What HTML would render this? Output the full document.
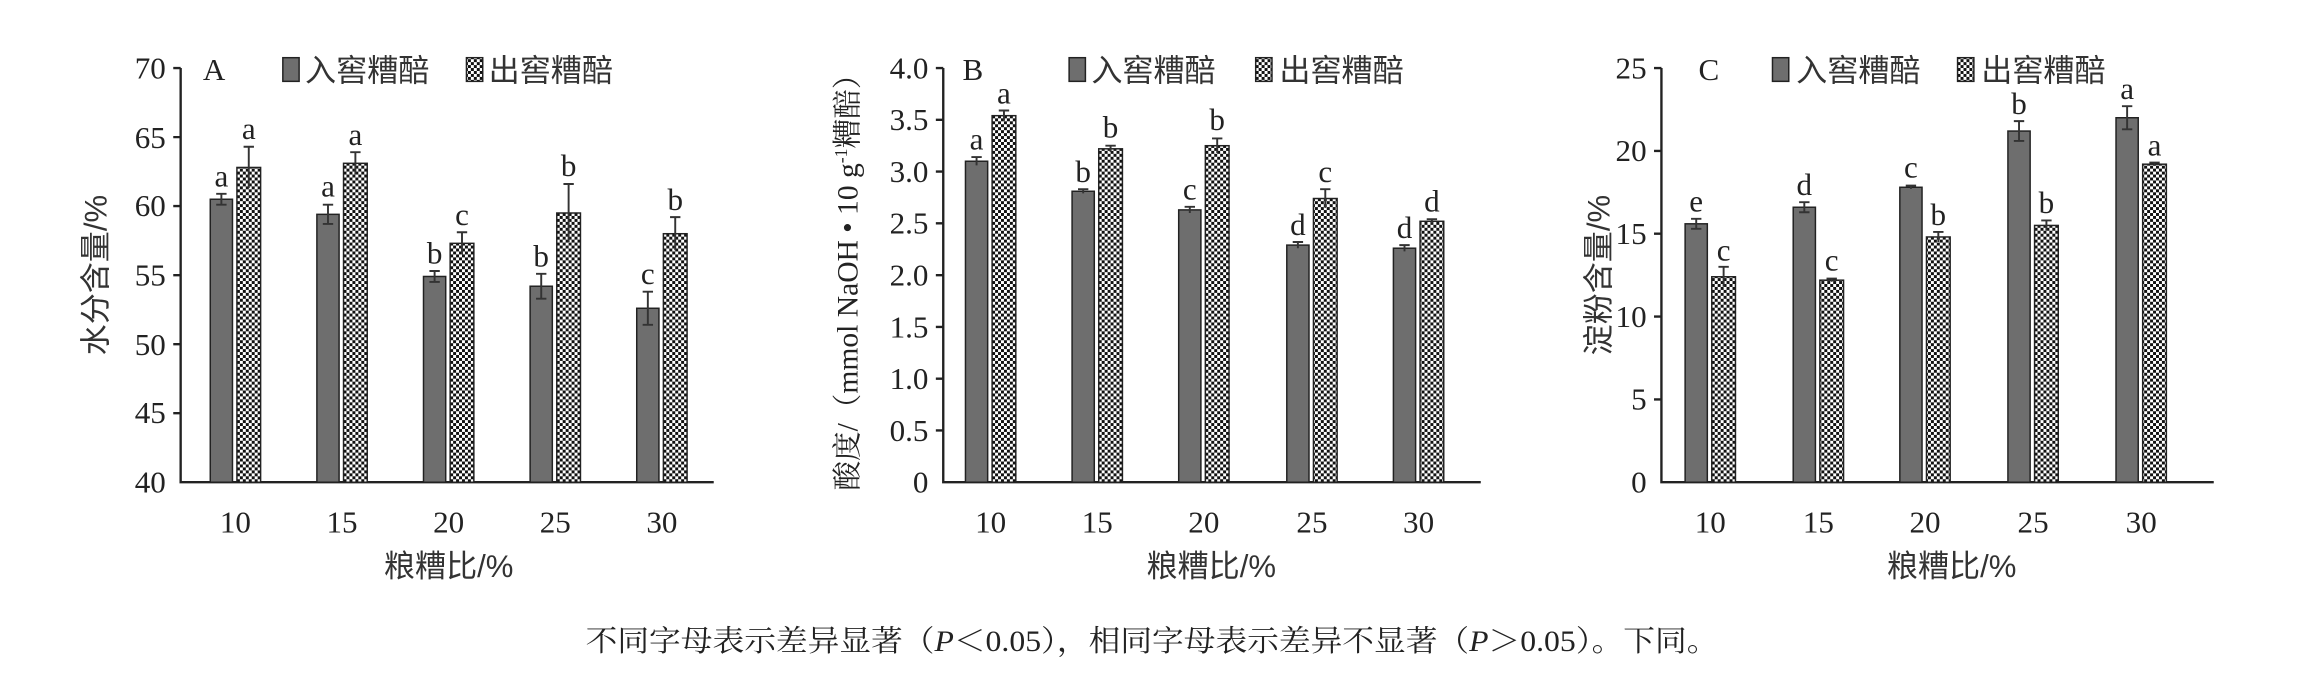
<!DOCTYPE html>
<html><head><meta charset="utf-8"><style>
html,body{margin:0;padding:0;background:#fff;width:2310px;height:676px;overflow:hidden}
svg{display:block}
.t{font-family:"Liberation Serif","Noto Serif CJK SC",serif;font-size:21px;fill:#222}
.l{font-family:"Liberation Serif",serif;font-size:21px;fill:#222}
.c{font-family:"Liberation Sans","Noto Sans CJK SC",sans-serif;font-size:21px;fill:#333}
.cap{font-family:"Liberation Serif","Noto Serif CJK SC",serif;font-size:20px;fill:#222}
.g{fill:#6e6e6e;stroke:#222;stroke-width:1}
.k{fill:url(#chk);stroke:#222;stroke-width:1}
.e{stroke:#333;stroke-width:1.3;fill:none}
.ax{stroke:#222;stroke-width:1.6;fill:none}
</style></head><body>
<svg width="2310" height="676" viewBox="0 0 1560 457" preserveAspectRatio="none">
<defs><pattern id="chk" width="4" height="4" patternUnits="userSpaceOnUse">
<rect width="4" height="4" fill="#fff"/><rect width="2" height="2" fill="#111"/><rect x="2" y="2" width="2" height="2" fill="#111"/></pattern></defs>

<!-- ===== A ===== -->
<path class="ax" d="M122 46V326H482 M117 46H122 M117 92.7H122 M117 139.3H122 M117 186H122 M117 232.7H122 M117 279.3H122"/>
<g class="t" text-anchor="end"><text x="112" y="53">70</text><text x="112" y="100">65</text><text x="112" y="146">60</text><text x="112" y="193">55</text><text x="112" y="240">50</text><text x="112" y="286">45</text><text x="112" y="333">40</text></g>
<text class="t" x="137" y="54">A</text>
<rect class="g" x="191" y="39" width="11" height="16"/><text class="c" x="206" y="55">入窖糟醅</text>
<rect class="k" x="315" y="39" width="11" height="16"/><text class="c" x="330" y="55">出窖糟醅</text>
<g>
<rect class="g" x="142" y="134.7" width="15" height="191.3"/><rect class="k" x="160" y="113.2" width="16" height="212.8"/>
<rect class="g" x="214" y="144.9" width="15" height="181.1"/><rect class="k" x="232" y="110.4" width="16" height="215.6"/>
<rect class="g" x="286" y="186.9" width="15" height="139.1"/><rect class="k" x="304" y="164.5" width="16" height="161.5"/>
<rect class="g" x="358" y="193.5" width="15" height="132.5"/><rect class="k" x="376" y="144" width="16" height="182"/>
<rect class="g" x="430" y="208.4" width="15" height="117.6"/><rect class="k" x="448" y="158" width="16" height="168"/>
</g>
<path class="e" d="M149.5 131V138.4M146 131H153M146 138.4H153 M168 99.2V127.2M164.5 99.2H171.5
M221.5 138.4V151.4M218 138.4H225M218 151.4H225 M240 102.9V117.9M236.5 102.9H243.5
M293.5 183.2V190.6M290 183.2H297M290 190.6H297 M312 157V172M308.5 157H315.5
M365.5 185.1V201.9M362 185.1H369M362 201.9H369 M384 124.4V163.6M380.5 124.4H387.5
M437.5 197.2V219.6M434 197.2H441M434 219.6H441 M456 146.8V169.2M452.5 146.8H459.5"/>
<g class="l" text-anchor="middle">
<text x="149.5" y="126">a</text><text x="168" y="94">a</text>
<text x="221.5" y="133">a</text><text x="240" y="98">a</text>
<text x="293.5" y="178">b</text><text x="312" y="152">c</text>
<text x="365.5" y="180">b</text><text x="384" y="119">b</text>
<text x="437.5" y="192">c</text><text x="456" y="142">b</text>
</g>
<g class="t" text-anchor="middle"><text x="159" y="360">10</text><text x="231" y="360">15</text><text x="303" y="360">20</text><text x="375" y="360">25</text><text x="447" y="360">30</text></g>
<text class="c" x="303" y="390" text-anchor="middle">粮糟比/%</text>
<text class="c" transform="translate(72,186) rotate(-90)" text-anchor="middle">水分含量/%</text>

<!-- ===== B ===== -->
<path class="ax" d="M637 46V326H1000 M632 46H637 M632 81H637 M632 116H637 M632 151H637 M632 186H637 M632 221H637 M632 256H637 M632 291H637"/>
<g class="t" text-anchor="end"><text x="627" y="53">4.0</text><text x="627" y="88">3.5</text><text x="627" y="123">3.0</text><text x="627" y="158">2.5</text><text x="627" y="193">2.0</text><text x="627" y="228">1.5</text><text x="627" y="263">1.0</text><text x="627" y="298">0.5</text><text x="627" y="333">0</text></g>
<text class="t" x="650" y="54">B</text>
<rect class="g" x="722" y="39" width="11" height="16"/><text class="c" x="737" y="55">入窖糟醅</text>
<rect class="k" x="848" y="39" width="11" height="16"/><text class="c" x="864" y="55">出窖糟醅</text>
<g>
<rect class="g" x="652" y="109" width="15" height="217"/><rect class="k" x="670" y="78.2" width="16" height="247.8"/>
<rect class="g" x="724" y="129.3" width="15" height="196.7"/><rect class="k" x="742" y="100.6" width="16" height="225.4"/>
<rect class="g" x="796" y="141.9" width="15" height="184.1"/><rect class="k" x="814" y="98.5" width="16" height="227.5"/>
<rect class="g" x="869" y="165.7" width="15" height="160.3"/><rect class="k" x="887" y="134.2" width="16" height="191.8"/>
<rect class="g" x="941" y="167.8" width="15" height="158.2"/><rect class="k" x="959" y="149.6" width="16" height="176.4"/>
</g>
<path class="e" d="M659.5 106.2V111.8M656 106.2H663 M678 74.7V81.7M674.5 74.7H681.5
M731.5 127.9V130.7M728 127.9H735 M750 98.5V102.7M746.5 98.5H753.5
M803.5 139.8V144M800 139.8H807 M822 93.6V103.4M818.5 93.6H825.5
M876.5 163.6V167.8M873 163.6H880 M895 127.9V140.5M891.5 127.9H898.5
M948.5 165.7V169.9M945 165.7H952 M967 148.2V151M963.5 148.2H970.5"/>
<g class="l" text-anchor="middle">
<text x="659.5" y="101">a</text><text x="678" y="70">a</text>
<text x="731.5" y="123">b</text><text x="750" y="93">b</text>
<text x="803.5" y="135">c</text><text x="822" y="88">b</text>
<text x="876.5" y="159">d</text><text x="895" y="123">c</text>
<text x="948.5" y="161">d</text><text x="967" y="143">d</text>
</g>
<g class="t" text-anchor="middle"><text x="669" y="360">10</text><text x="741" y="360">15</text><text x="813" y="360">20</text><text x="886" y="360">25</text><text x="958" y="360">30</text></g>
<text class="c" x="818" y="390" text-anchor="middle">粮糟比/%</text>
<text class="t" transform="translate(579,186) rotate(-90)" text-anchor="middle" style="font-size:20px">酸度/（mmol NaOH • 10 g<tspan dy="-7" style="font-size:12px">-1</tspan><tspan dy="7">糟醅）</tspan></text>

<!-- ===== C ===== -->
<path class="ax" d="M1122 46V326H1495 M1117 46H1122 M1117 102H1122 M1117 158H1122 M1117 214H1122 M1117 270H1122"/>
<g class="t" text-anchor="end"><text x="1112" y="53">25</text><text x="1112" y="109">20</text><text x="1112" y="165">15</text><text x="1112" y="221">10</text><text x="1112" y="277">5</text><text x="1112" y="333">0</text></g>
<text class="t" x="1147" y="54">C</text>
<rect class="g" x="1197" y="39" width="11" height="16"/><text class="c" x="1213" y="55">入窖糟醅</text>
<rect class="k" x="1322" y="39" width="11" height="16"/><text class="c" x="1338" y="55">出窖糟醅</text>
<g>
<rect class="g" x="1138" y="151.3" width="15" height="174.7"/><rect class="k" x="1156" y="187.1" width="16" height="138.9"/>
<rect class="g" x="1211" y="140.1" width="15" height="185.9"/><rect class="k" x="1229" y="189.4" width="16" height="136.6"/>
<rect class="g" x="1283" y="126.6" width="15" height="199.4"/><rect class="k" x="1301" y="160.2" width="16" height="165.8"/>
<rect class="g" x="1356" y="88.6" width="15" height="237.4"/><rect class="k" x="1374" y="152.4" width="16" height="173.6"/>
<rect class="g" x="1429" y="79.6" width="15" height="246.4"/><rect class="k" x="1447" y="111" width="16" height="215"/>
</g>
<path class="e" d="M1145.5 147.9V154.7M1142 147.9H1149M1142 154.7H1149 M1164 180.4V193.8M1160.5 180.4H1167.5
M1218.5 136.7V143.5M1215 136.7H1222M1215 143.5H1222 M1237 188.3V190.5M1233.5 188.3H1240.5
M1290.5 125.5V127.7M1287 125.5H1294 M1309 156.8V163.6M1305.5 156.8H1312.5
M1363.5 81.9V95.3M1360 81.9H1367M1360 95.3H1367 M1382 149V155.8M1378.5 149H1385.5
M1436.5 71.8V87.4M1433 71.8H1440M1433 87.4H1440 M1455 109.9V112.1M1451.5 109.9H1458.5"/>
<g class="l" text-anchor="middle">
<text x="1145.5" y="143">e</text><text x="1164" y="176">c</text>
<text x="1218.5" y="132">d</text><text x="1237" y="183">c</text>
<text x="1290.5" y="120">c</text><text x="1309" y="152">b</text>
<text x="1363.5" y="77">b</text><text x="1382" y="144">b</text>
<text x="1436.5" y="67">a</text><text x="1455" y="105">a</text>
</g>
<g class="t" text-anchor="middle"><text x="1155" y="360">10</text><text x="1228" y="360">15</text><text x="1300" y="360">20</text><text x="1373" y="360">25</text><text x="1446" y="360">30</text></g>
<text class="c" x="1318" y="390" text-anchor="middle">粮糟比/%</text>
<text class="c" transform="translate(1087,186) rotate(-90)" text-anchor="middle">淀粉含量/%</text>

<text class="cap" x="778" y="440" text-anchor="middle" textLength="765" lengthAdjust="spacingAndGlyphs">不同字母表示差异显著（<tspan font-style="italic">P</tspan>＜0.05），相同字母表示差异不显著（<tspan font-style="italic">P</tspan>＞0.05）。下同。</text>
</svg>
</body></html>
